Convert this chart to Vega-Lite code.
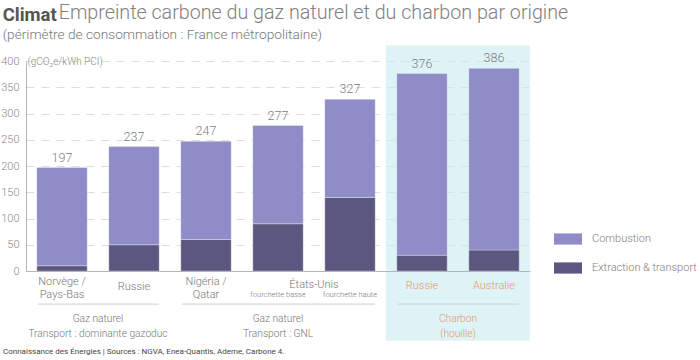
{
  "$schema": "https://vega.github.io/schema/vega-lite/v6.json",
  "padding": {"left": 0, "top": 2, "right": 0, "bottom": 0},
  "config": {
    "font": "Roboto",
    "view": {"stroke": null},
    "concat": {"spacing": 0},
    "text": {"font": "Roboto", "lineBreak": "\n"},
    "axisY": {
      "grid": true, "gridDash": [8, 7], "gridColor": "#dddddd",
      "ticks": false, "domainColor": "#b5b5b5",
      "labelColor": "#8a8a8a", "labelFont": "Roboto", "labelFontWeight": 300, "labelFontSize": 11, "labelPadding": 7, "labelOverlap": false,
      "titleAngle": 0, "titleX": 1, "titleY": 0, "titleAlign": "left", "titleBaseline": "middle",
      "titleFont": "Roboto", "titleFontWeight": 300, "titleFontSize": 10, "titleColor": "#8a8a8a"
    },
    "axisX": {"labels": false, "ticks": false, "domainColor": "#b5b5b5", "grid": false}
  },
  "datasets": {
    "bars": [
      {"id": "norvege", "part": "Extraction & transport", "value": 10},
      {"id": "norvege", "part": "Combustion", "value": 187},
      {"id": "russie_gaz", "part": "Extraction & transport", "value": 50},
      {"id": "russie_gaz", "part": "Combustion", "value": 187},
      {"id": "nigeria", "part": "Extraction & transport", "value": 60},
      {"id": "nigeria", "part": "Combustion", "value": 187},
      {"id": "us_bas", "part": "Extraction & transport", "value": 90},
      {"id": "us_bas", "part": "Combustion", "value": 187},
      {"id": "us_haut", "part": "Extraction & transport", "value": 140},
      {"id": "us_haut", "part": "Combustion", "value": 187},
      {"id": "russie_charbon", "part": "Extraction & transport", "value": 30},
      {"id": "russie_charbon", "part": "Combustion", "value": 346},
      {"id": "australie", "part": "Extraction & transport", "value": 40},
      {"id": "australie", "part": "Combustion", "value": 346}
    ],
    "totals": [
      {"id": "norvege", "total": 197},
      {"id": "russie_gaz", "total": 237},
      {"id": "nigeria", "total": 247},
      {"id": "us_bas", "total": 277},
      {"id": "us_haut", "total": 327},
      {"id": "russie_charbon", "total": 376},
      {"id": "australie", "total": 386}
    ]
  },
  "title": {
    "text": "Climat",
    "subtitle": "(périmètre de consommation : France métropolitaine)",
    "anchor": "start",
    "frame": "bounds",
    "font": "Roboto",
    "fontSize": 18.5,
    "fontWeight": "bold",
    "color": "#555555",
    "subtitleFont": "Roboto",
    "subtitleFontSize": 13.7,
    "subtitleFontWeight": 300,
    "subtitleColor": "#777777",
    "subtitlePadding": 3,
    "offset": 4,
    "dx": 2,
    "dy": 43
  },
  "vconcat": [
    {
      "width": 504,
      "height": 210,
      "title": {
        "text": "Empreinte carbone du gaz naturel et du charbon par origine",
        "anchor": "start",
        "frame": "bounds",
        "font": "Roboto",
        "fontSize": 19.7,
        "fontWeight": 300,
        "color": "#808080",
        "dx": 58,
        "dy": -19
      },
      "layer": [
        {
          "data": {"values": [{"id": "russie_charbon"}, {"id": "australie"}]},
          "mark": {"type": "rect", "color": "#c8ebf0", "opacity": 0.6, "width": {"band": 1.4286}},
          "encoding": {
            "x": {
              "field": "id", "type": "nominal",
              "scale": {"domain": ["norvege", "russie_gaz", "nigeria", "us_bas", "us_haut", "russie_charbon", "australie"], "paddingInner": 0.3, "paddingOuter": 0.15},
              "axis": {"title": null}
            },
            "y": {
              "datum": 430, "type": "quantitative",
              "scale": {"domain": [0, 400], "nice": false},
              "axis": {"values": [0, 50, 100, 150, 200, 250, 300, 350, 400], "title": "(gCO₂e/kWh PCI)"}
            },
            "y2": {"datum": -133}
          }
        },
        {
          "data": {"name": "bars"},
          "mark": {"type": "bar", "stroke": "#ffffff", "strokeWidth": 0.5, "strokeOpacity": 0.6},
          "encoding": {
            "x": {"field": "id", "type": "nominal", "axis": {"title": null}},
            "y": {"field": "value", "type": "quantitative", "stack": "zero", "axis": {"values": [0, 50, 100, 150, 200, 250, 300, 350, 400], "title": "(gCO₂e/kWh PCI)"}},
            "color": {
              "field": "part", "type": "nominal",
              "scale": {"domain": ["Combustion", "Extraction & transport"], "range": ["#8f8cc7", "#5b587f"]},
              "legend": {
                "title": null, "orient": "none", "legendX": 528, "legendY": 164,
                "symbolType": "M-1,-0.4L1,-0.4L1,0.4L-1,0.4Z", "symbolSize": 784, "symbolStrokeWidth": 0,
                "labelFont": "Roboto", "labelFontWeight": 300, "labelFontSize": 11, "labelColor": "#808080", "labelOffset": 10,
                "rowPadding": 9
              }
            },
            "order": {"field": "part", "sort": "descending"}
          }
        },
        {
          "data": {"name": "totals"},
          "mark": {"type": "text", "baseline": "bottom", "dy": -3, "fontSize": 12.5, "fontWeight": 300, "color": "#808080"},
          "encoding": {
            "x": {"field": "id", "type": "nominal", "axis": {"title": null}},
            "y": {"field": "total", "type": "quantitative", "axis": {"values": [0, 50, 100, 150, 200, 250, 300, 350, 400], "title": "(gCO₂e/kWh PCI)"}},
            "text": {"field": "total", "type": "quantitative"}
          }
        },
        {
          "data": {"values": [
            {"id": "norvege", "label": "Norvège /\nPays-Bas"},
            {"id": "nigeria", "label": "Nigéria /\nQatar"}
          ]},
          "mark": {"type": "text", "baseline": "middle", "lineHeight": 12.5, "fontSize": 11, "fontWeight": 300, "color": "#777777"},
          "encoding": {
            "x": {"field": "id", "type": "nominal", "axis": {"title": null}},
            "y": {"datum": -21, "type": "quantitative", "axis": {"values": [0, 50, 100, 150, 200, 250, 300, 350, 400], "title": "(gCO₂e/kWh PCI)"}},
            "text": {"field": "label"}
          }
        },
        {
          "data": {"values": [{"id": "russie_gaz", "label": "Russie"}]},
          "mark": {"type": "text", "baseline": "middle", "fontSize": 11, "fontWeight": 300, "color": "#777777"},
          "encoding": {
            "x": {"field": "id", "type": "nominal", "axis": {"title": null}},
            "y": {"datum": -30, "type": "quantitative", "axis": {"values": [0, 50, 100, 150, 200, 250, 300, 350, 400], "title": "(gCO₂e/kWh PCI)"}},
            "text": {"field": "label"}
          }
        },
        {
          "data": {"values": [{"id": "us_bas", "label": "États-Unis"}]},
          "mark": {"type": "text", "baseline": "middle", "dx": 36, "fontSize": 11, "fontWeight": 300, "color": "#777777"},
          "encoding": {
            "x": {"field": "id", "type": "nominal", "axis": {"title": null}},
            "y": {"datum": -27, "type": "quantitative", "axis": {"values": [0, 50, 100, 150, 200, 250, 300, 350, 400], "title": "(gCO₂e/kWh PCI)"}},
            "text": {"field": "label"}
          }
        },
        {
          "data": {"values": [{"id": "us_bas", "label": "fourchette basse"}, {"id": "us_haut", "label": "fourchette haute"}]},
          "mark": {"type": "text", "baseline": "middle", "fontSize": 7.5, "fontWeight": 300, "color": "#777777"},
          "encoding": {
            "x": {"field": "id", "type": "nominal", "axis": {"title": null}},
            "y": {"datum": -46, "type": "quantitative", "axis": {"values": [0, 50, 100, 150, 200, 250, 300, 350, 400], "title": "(gCO₂e/kWh PCI)"}},
            "text": {"field": "label"}
          }
        },
        {
          "data": {"values": [{"id": "russie_charbon", "label": "Russie"}, {"id": "australie", "label": "Australie"}]},
          "mark": {"type": "text", "baseline": "middle", "fontSize": 11, "fontWeight": 300, "color": "#e8936a"},
          "encoding": {
            "x": {"field": "id", "type": "nominal", "axis": {"title": null}},
            "y": {"datum": -29, "type": "quantitative", "axis": {"values": [0, 50, 100, 150, 200, 250, 300, 350, 400], "title": "(gCO₂e/kWh PCI)"}},
            "text": {"field": "label"}
          }
        },
        {
          "data": {"values": [
            {"id": "norvege", "to": "russie_gaz"},
            {"id": "nigeria", "to": "us_haut"},
            {"id": "russie_charbon", "to": "australie"}
          ]},
          "mark": {"type": "rule", "color": "#cfcfcf", "strokeWidth": 1, "xOffset": -24, "x2Offset": 25},
          "encoding": {
            "x": {"field": "id", "type": "nominal", "axis": {"title": null}},
            "x2": {"field": "to"},
            "y": {"datum": -63, "type": "quantitative", "axis": {"values": [0, 50, 100, 150, 200, 250, 300, 350, 400], "title": "(gCO₂e/kWh PCI)"}}
          }
        },
        {
          "data": {"values": [
            {"id": "norvege", "label": "Gaz naturel\nTransport : dominante gazoduc", "coal": false},
            {"id": "russie_charbon", "label": "Charbon\n(houille)", "coal": true}
          ]},
          "mark": {"type": "text", "baseline": "middle", "dx": 36, "lineHeight": 15, "fontSize": 10.2, "fontWeight": 300},
          "encoding": {
            "x": {"field": "id", "type": "nominal", "axis": {"title": null}},
            "y": {"datum": -92, "type": "quantitative", "axis": {"values": [0, 50, 100, 150, 200, 250, 300, 350, 400], "title": "(gCO₂e/kWh PCI)"}},
            "text": {"field": "label"},
            "color": {"condition": {"test": "datum.coal", "value": "#e8936a"}, "value": "#777777"}
          }
        },
        {
          "data": {"values": [{"id": "us_bas", "label": "Gaz naturel\nTransport : GNL"}]},
          "mark": {"type": "text", "baseline": "middle", "lineHeight": 15, "fontSize": 10.2, "fontWeight": 300, "color": "#777777"},
          "encoding": {
            "x": {"field": "id", "type": "nominal", "axis": {"title": null}},
            "y": {"datum": -92, "type": "quantitative", "axis": {"values": [0, 50, 100, 150, 200, 250, 300, 350, 400], "title": "(gCO₂e/kWh PCI)"}},
            "text": {"field": "label"}
          }
        },
        {
          "data": {"values": [{"id": "norvege", "label": "Connaissance des Énergies | Sources : NGVA, Enea-Quantis, Ademe, Carbone 4."}]},
          "mark": {"type": "text", "baseline": "middle", "align": "left", "dx": -59, "fontSize": 8, "fontWeight": 400, "color": "#444444"},
          "encoding": {
            "x": {"field": "id", "type": "nominal", "axis": {"title": null}},
            "y": {"datum": -154, "type": "quantitative", "axis": {"values": [0, 50, 100, 150, 200, 250, 300, 350, 400], "title": "(gCO₂e/kWh PCI)"}},
            "text": {"field": "label"}
          }
        }
      ]
    }
  ]
}
